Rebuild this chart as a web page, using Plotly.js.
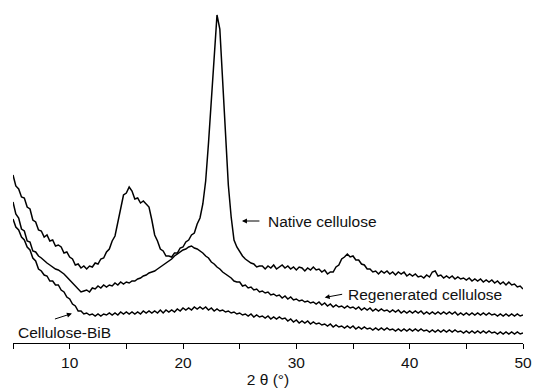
<!DOCTYPE html>
<html>
<head>
<meta charset="utf-8">
<script src="https://cdn.plot.ly/plotly-3.0.1.min.js"></script>
<style>html,body{margin:0;padding:0;background:#fff;}#chart{width:533px;height:390px;}</style>
</head>
<body>
<div id="chart"></div>
<script>
// 2θ scan grid (degrees)
const twoTheta = [
5,5.25,5.5,5.75,6,6.25,6.5,6.75,7,7.25,7.5,7.75,8,8.25,8.5,8.75,9,9.25,9.5,9.75,
10,10.25,10.5,10.75,11,11.25,11.5,11.75,12,12.25,12.5,12.75,13,13.25,13.5,13.75,14,14.25,14.5,14.75,
15,15.25,15.5,15.75,16,16.25,16.5,16.75,17,17.25,17.5,17.75,18,18.25,18.5,18.75,19,19.25,19.5,19.75,
20,20.25,20.5,20.75,21,21.25,21.5,21.75,22,22.25,22.5,22.75,23,23.25,23.5,23.75,24,24.25,24.5,24.75,
25,25.25,25.5,25.75,26,26.25,26.5,26.75,27,27.25,27.5,27.75,28,28.25,28.5,28.75,29,29.25,29.5,29.75,
30,30.25,30.5,30.75,31,31.25,31.5,31.75,32,32.25,32.5,32.75,33,33.25,33.5,33.75,34,34.25,34.5,34.75,
35,35.25,35.5,35.75,36,36.25,36.5,36.75,37,37.25,37.5,37.75,38,38.25,38.5,38.75,39,39.25,39.5,39.75,
40,40.25,40.5,40.75,41,41.25,41.5,41.75,42,42.25,42.5,42.75,43,43.25,43.5,43.75,44,44.25,44.5,44.75,
45,45.25,45.5,45.75,46,46.25,46.5,46.75,47,47.25,47.5,47.75,48,48.25,48.5,48.75,49,49.25,49.5,49.75,
50];

// Intensities (arbitrary units, stacked)
const nativeCellulose = [
168,157,154,146,145,136,134,123,121,113,112,106,108,102,103,97,98,96,90,91,
86,84,78,79,75,77,74,77,76,80,79,84,85,91,94,102,107,121,133,148,
150,156,152,144,145,140,142,139,136,123,108,102,94,92,87,87,86,90,90,95,
96,101,103,108,110,119,125,139,162,200,244,284,328,314,266,208,158,126,103,96,
91,87,84,82,80,79,76,77,77,74,77,75,78,74,76,78,75,77,74,76,
73,76,75,72,75,73,76,73,74,71,73,69,71,71,76,78,84,86,89,86,
87,83,83,79,78,74,74,71,72,69,72,70,72,69,71,68,71,69,71,67,
69,67,69,66,67,65,68,66,71,72,67,68,65,67,65,67,64,66,64,65,
63,65,62,64,62,64,61,63,61,63,60,62,59,61,58,61,58,59,56,57,
54];

const regeneratedCellulose = [
141,129,125,114,112,102,101,92,91,87,85,82,80,78,76,74,73,71,69,66,
63,60,57,53,51,52,53,51,55,54,57,55,58,56,58,57,60,58,61,59,
61,60,62,62,64,65,67,68,70,71,72,74,76,78,80,82,84,87,89,91,
93,94,96,97,95,94,92,90,87,85,81,79,76,74,71,69,67,65,62,61,
61,57,58,55,56,53,54,51,52,50,51,48,49,47,48,45,47,44,46,43,
44,42,43,41,42,40,41,39,41,38,40,37,39,36,38,36,37,35,37,35,
36,34,36,33,35,33,35,32,34,32,34,32,33,31,33,31,33,30,32,30,
32,30,32,30,32,29,31,29,31,29,31,29,31,29,31,29,31,28,30,28,
30,28,30,28,30,28,30,28,30,28,29,27,29,27,29,27,29,27,29,27,
28];

const celluloseBiB = [
124,116,113,106,103,96,93,85,82,74,72,68,67,62,62,58,58,53,51,46,
44,39,37,32,32,29,30,28,29,27,29,27,29,28,30,28,30,28,31,29,
31,29,31,29,31,29,32,30,32,30,32,30,33,30,33,31,33,31,34,32,
35,33,35,33,36,34,36,34,36,33,35,32,34,32,33,31,32,30,31,29,
30,28,29,27,29,26,28,26,27,25,27,24,26,24,26,24,25,22,24,21,
23,20,22,20,22,19,21,19,20,18,19,17,19,16,18,16,17,15,17,15,
17,14,16,14,16,14,15,13,15,13,15,13,15,13,14,12,14,12,14,12,
14,12,14,12,14,12,13,11,13,11,13,11,13,11,13,11,13,11,12,10,
12,10,12,10,12,10,12,10,12,10,11,9,11,9,11,9,11,9,11,9,
10];

const tickValues = [5,10,15,20,25,30,35,40,45,50];
const tickLabels = ['','10','','20','','30','','40','','50'];

const FONT = '"Liberation Sans", Arial, Helvetica, sans-serif';
const lineStyle = {color:'#000', width:1.5};

const traces = [
  {x:twoTheta, y:nativeCellulose, name:'Native cellulose', mode:'lines', line:lineStyle},
  {x:twoTheta, y:regeneratedCellulose, name:'Regenerated cellulose', mode:'lines', line:lineStyle},
  {x:twoTheta, y:celluloseBiB, name:'Cellulose-BiB', mode:'lines', line:lineStyle}
];

const txt = {family:FONT, size:15.5, color:'#111'};
const arrowBase = {text:'', showarrow:true, arrowhead:2, arrowsize:1, arrowwidth:1, arrowcolor:'#000', axref:'pixel', ayref:'pixel'};

const layout = {
  width:533, height:390,
  margin:{l:13, r:10, t:8, b:47},
  paper_bgcolor:'#fff', plot_bgcolor:'#fff',
  showlegend:false,
  font:{family:FONT, size:15.5, color:'#111'},
  xaxis:{
    range:[5,50], tickmode:'array', tickvals:tickValues, ticktext:tickLabels,
    ticks:'outside', ticklen:5, tickwidth:1, tickcolor:'#000',
    showline:true, linecolor:'#000', linewidth:1, mirror:false,
    showgrid:false, zeroline:false,
    tickfont:{family:FONT, size:15.5, color:'#111'},
    title:{text:'2 θ (°)', font:{family:FONT, size:15.5, color:'#111'}, standoff:1}
  },
  yaxis:{visible:false, range:[0,335], fixedrange:true},
  annotations:[
    Object.assign({}, arrowBase, {x:25.2, y:122, ax:19, ay:0}),
    {x:27.3, y:122, text:'Native cellulose', showarrow:false, xanchor:'left', yanchor:'middle', font:txt},
    Object.assign({}, arrowBase, {x:32.5, y:45.5, ax:19, ay:-3.5}),
    {x:34.35, y:49, text:'Regenerated cellulose', showarrow:false, xanchor:'left', yanchor:'middle', font:txt},
    Object.assign({}, arrowBase, {x:10.2, y:29.5, ax:-18.5, ay:6}),
    {x:5.25, y:11, text:'Cellulose-BiB', showarrow:false, xanchor:'left', yanchor:'middle', font:txt}
  ]
};

Plotly.newPlot('chart', traces, layout, {staticPlot:true, displayModeBar:false});
</script>
</body>
</html>
